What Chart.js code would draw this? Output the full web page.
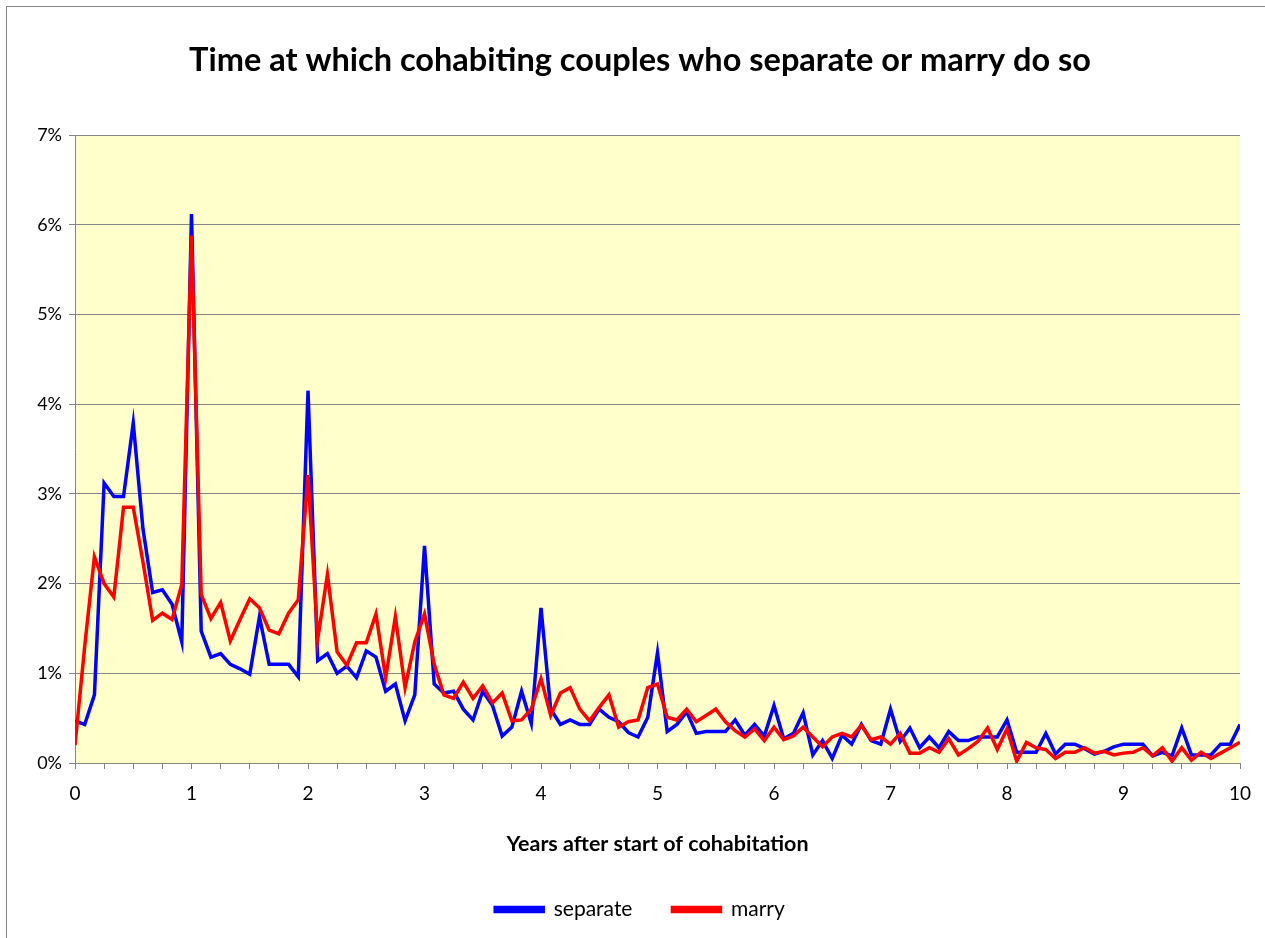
<!DOCTYPE html>
<html>
<head>
<meta charset="utf-8">
<script src="https://cdn.jsdelivr.net/npm/chart.js@4/dist/chart.umd.min.js"></script>
<style>
  html, body { margin: 0; padding: 0; background: #ffffff; }
  #c { display: block; }
</style>
</head>
<body>
<canvas id="c" width="1265" height="938"></canvas>
<script>
// ---- Data (percent of couples, monthly from 0 to 10 years) ----
const monthIndex = Array.from({ length: 121 }, (_, i) => i);
const yearLabels = monthIndex.map(m => m / 12);

const separate = [
  0.47, 0.43, 0.76, 3.12, 2.97, 2.97, 3.79, 2.61, 1.90, 1.93, 1.77, 1.35,
  6.12, 1.47, 1.18, 1.22, 1.10, 1.05, 0.99, 1.63, 1.10, 1.10, 1.10, 0.96,
  4.15, 1.14, 1.22, 1.00, 1.08, 0.95, 1.25, 1.18, 0.80, 0.88, 0.47, 0.76,
  2.42, 0.88, 0.78, 0.80, 0.60, 0.48, 0.80, 0.64, 0.30, 0.40, 0.80, 0.44,
  1.73, 0.60, 0.43, 0.48, 0.43, 0.43, 0.60, 0.51, 0.46, 0.34, 0.29, 0.51,
  1.23, 0.35, 0.43, 0.57, 0.33, 0.35, 0.35, 0.35, 0.48, 0.31, 0.43, 0.30,
  0.64, 0.27, 0.33, 0.56, 0.09, 0.25, 0.05, 0.31, 0.21, 0.43, 0.25, 0.21,
  0.60, 0.24, 0.39, 0.17, 0.29, 0.17, 0.35, 0.25, 0.25, 0.29, 0.29, 0.29,
  0.48, 0.12, 0.12, 0.12, 0.33, 0.10, 0.21, 0.21, 0.16, 0.10, 0.13, 0.18,
  0.21, 0.21, 0.21, 0.08, 0.12, 0.08, 0.39, 0.09, 0.09, 0.09, 0.21, 0.21,
  0.43
];

const marry = [
  0.20, 1.30, 2.30, 2.00, 1.85, 2.85, 2.85, 2.24, 1.59, 1.67, 1.60, 1.99,
  5.88, 1.88, 1.61, 1.79, 1.36, 1.60, 1.83, 1.73, 1.48, 1.44, 1.67, 1.82,
  3.21, 1.38, 2.10, 1.24, 1.09, 1.34, 1.34, 1.66, 0.95, 1.63, 0.84, 1.35,
  1.66, 1.10, 0.76, 0.72, 0.90, 0.72, 0.86, 0.67, 0.78, 0.47, 0.48, 0.60,
  0.94, 0.53, 0.78, 0.84, 0.60, 0.47, 0.62, 0.76, 0.40, 0.46, 0.48, 0.84,
  0.88, 0.51, 0.48, 0.60, 0.46, 0.53, 0.60, 0.46, 0.36, 0.29, 0.38, 0.25,
  0.40, 0.26, 0.30, 0.40, 0.29, 0.18, 0.29, 0.33, 0.29, 0.42, 0.26, 0.29,
  0.21, 0.33, 0.11, 0.11, 0.17, 0.12, 0.27, 0.09, 0.16, 0.24, 0.39, 0.15,
  0.38, 0.02, 0.23, 0.17, 0.15, 0.05, 0.12, 0.12, 0.17, 0.11, 0.13, 0.09,
  0.11, 0.12, 0.17, 0.08, 0.17, 0.02, 0.17, 0.03, 0.12, 0.05, 0.11, 0.17,
  0.23
];

const seriesNames = ['separate', 'marry'];
const titleText = 'Time at which cohabiting couples who separate or marry do so';
const xTitleText = 'Years after start of cohabitation';

// ---- Plugin: chart border + plot area background ----
const bgPlugin = {
  id: 'bgPlugin',
  afterLayout(chart) {
    // centre title and legend on the whole chart frame rather than on the padded box
    if (chart.legend) {
      chart.legend.left += 10;
      chart.legend.right += 10;
    }
    if (chart.titleBlock) {
      chart.titleBlock.left += 10;
      chart.titleBlock.right += 10;
    }
  },
  beforeDraw(chart) {
    const { ctx, chartArea: a } = chart;
    ctx.save();
    ctx.fillStyle = '#ffffff';
    ctx.fillRect(0, 0, chart.width, chart.height);
    ctx.strokeStyle = '#868686';
    ctx.lineWidth = 1;
    ctx.strokeRect(6.5, 6.5, chart.width + 20, chart.height + 20);
    ctx.fillStyle = '#FFFFCC';
    ctx.fillRect(a.left, a.top, a.right - a.left, a.bottom - a.top);
    ctx.restore();
  }
};

const FONT = 'Lato, "Open Sans", sans-serif';

new Chart(document.getElementById('c'), {
  type: 'line',
  data: {
    labels: yearLabels,
    datasets: [
      {
        label: seriesNames[0],
        data: separate,
        borderColor: '#0000FF',
        backgroundColor: '#0000FF',
        borderWidth: 3.5,
        pointRadius: 0,
        tension: 0,
        order: 1
      },
      {
        label: seriesNames[1],
        data: marry,
        borderColor: '#FF0000',
        backgroundColor: '#FF0000',
        borderWidth: 3.5,
        pointRadius: 0,
        tension: 0,
        order: 0
      }
    ]
  },
  options: {
    responsive: false,
    animation: false,
    devicePixelRatio: 1,
    layout: { padding: { left: 20, right: 25, top: 0, bottom: 8 } },
    plugins: {
      tooltip: { enabled: false },
      title: {
        display: true,
        text: titleText,
        color: '#000',
        font: { family: FONT, size: 32.5, weight: 'bold' },
        padding: { top: 41, bottom: 55 }
      },
      legend: {
        position: 'bottom',
        align: 'center',
        labels: {
          color: '#000',
          font: { family: FONT, size: 21 },
          boxWidth: 48,
          boxHeight: 4,
          padding: 40,
          sort: (a, b) => a.datasetIndex - b.datasetIndex
        }
      }
    },
    scales: {
      x: {
        type: 'linear',
        min: 0,
        max: 10,
        afterFit: (s) => { s.height = 96; },
        ticks: {
          stepSize: 0.25,
          autoSkip: false,
          maxRotation: 0,
          padding: 13,
          color: '#000',
          font: { family: FONT, size: 19 },
          callback: (v) => (Math.abs(v - Math.round(v)) < 1e-9 ? String(Math.round(v)) : '')
        },
        grid: {
          drawOnChartArea: false,
          drawTicks: true,
          tickLength: 6,
          color: '#868686'
        },
        border: { display: true, color: '#868686', width: 1 },
        title: {
          display: true,
          text: xTitleText,
          color: '#000',
          font: { family: FONT, size: 21.5, weight: 'bold' },
          padding: { top: 0, bottom: 2 }
        }
      },
      y: {
        min: 0,
        max: 7,
        afterFit: (s) => { s.width = 55; },
        ticks: {
          stepSize: 1,
          padding: 7,
          color: '#000',
          font: { family: FONT, size: 18 },
          callback: (v) => v + '%'
        },
        grid: {
          color: '#868686',
          lineWidth: 1,
          drawTicks: true,
          tickLength: 6
        },
        border: { display: true, color: '#868686', width: 1 }
      }
    }
  },
  plugins: [bgPlugin]
});
</script>
</body>
</html>
